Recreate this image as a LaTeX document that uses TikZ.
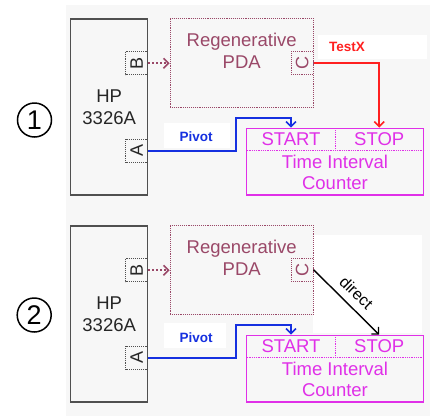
\documentclass[tikz,border=0pt]{standalone}
\usepackage{fontspec}
\setmainfont{Liberation Sans}
\usetikzlibrary{arrows.meta,shapes.geometric}
\definecolor{bggray}{HTML}{F7F7F7}
\definecolor{mauve}{HTML}{9A4868}
\definecolor{mag}{HTML}{E030E8}
\definecolor{pblue}{HTML}{1530E0}
\definecolor{tred}{HTML}{FF2020}
\definecolor{boxgray}{HTML}{505050}
\tikzset{
  bigtxt/.style={font=\fontsize{18.5}{21.5}\selectfont},
  hpbox/.style={draw=boxgray, line width=1.4pt, minimum width=77pt, minimum height=176pt, inner sep=0pt, bigtxt, align=center, text=black!85},
  portbox/.style={draw=boxgray, densely dotted, line width=0.9pt, minimum width=23pt, minimum height=22pt, inner sep=0pt, rotate=90, font=\fontsize{18}{18}\selectfont, text=black!85},
  cportbox/.style={portbox, draw=mauve, text=mauve},
  pdabox/.style={draw=mauve, densely dotted, line width=0.9pt, minimum width=143.3pt, minimum height=89pt, inner sep=0pt},
  pdatxt/.style={bigtxt, text=mauve, align=center},
  ticbox/.style={draw=mag, line width=1.3pt, minimum width=176.6pt, minimum height=66.7pt, inner sep=0pt},
  tictxt/.style={bigtxt, text=mag, inner sep=0pt},
  ticdiv/.style={draw=mag, densely dotted, line width=0.8pt},
  whitebox/.style={fill=white, draw=none, inner sep=0pt},
  lbl/.style={font=\bfseries\fontsize{13.5}{13.5}\selectfont, inner sep=0pt},
  barb/.style={-{Straight Barb[length=5pt,width=10pt,line width=1.6pt]}},
  bline/.style={mauve, dotted, line width=2pt, barb},
  redline/.style={tred, line width=2.2pt, barb},
  blueline/.style={pblue, line width=2.2pt, barb},
  blackline/.style={black, line width=1.4pt, -{Straight Barb[length=5pt,width=10pt,line width=1.4pt]}},
  numcirc/.style={circle, draw=black, line width=1.5pt, minimum size=34pt, inner sep=0pt, font=\fontsize{27}{27}\selectfont}
}
\begin{document}
\begin{tikzpicture}[x=1pt,y=-1pt]
\useasboundingbox (0,0) rectangle (438,416);
\fill[bggray] (66,5) rectangle (430,416);

% ---------------- panel 1 ----------------
\begin{scope}[name prefix=p1-]
  \node[whitebox, minimum width=109pt, minimum height=24pt] (tbg) at (372.5,47) {};
  \node[whitebox, minimum width=66pt, minimum height=25.3pt] (pbg) at (197,135.3) {};
  \node[numcirc] (num) at (34.5,120) {1};
  \node[hpbox] (hp) at (109.2,107) {HP\\3326A};
  \node[portbox] (B) at (136.7,63.3) {B};
  \node[portbox] (A) at (136.7,150.8) {A};
  \node[pdabox] (pda) at (241.7,62.8) {};
  \node[pdatxt] (pdat) at (241.7,51) {Regenerative\\PDA};
  \node[cportbox] (C) at (302.2,62.8) {C};
  \node[ticbox] (tic) at (335,161.7) {};
  \coordinate (hl) at (246.7,150.7);
  \coordinate (hr) at (423.3,150.7);
  \coordinate (vt) at (335,128.3);
  \coordinate (vb) at (335,150.7);
  \draw[ticdiv] (hl) -- (hr);
  \draw[ticdiv] (vt) -- (vb);
  \node[tictxt] (start) at (291,139.5) {START};
  \node[tictxt] (stop) at (379.2,139.5) {STOP};
  \node[tictxt] (tit) at (335,162) {Time Interval};
  \node[tictxt] (cnt) at (335,183.5) {Counter};
  \draw[bline] (B.south) -- (pda.west |- B.south);
  \draw[redline] (C.south) -| (stop |- tic.north);
  \coordinate (pb) at (236,117.7);
  \draw[blueline] (A.south) -| (pb) -| (start |- tic.north);
  \node[lbl, text=tred] (testx) at (347,47) {TestX};
  \node[lbl, text=pblue] (pivot) at (196,137) {Pivot};
\end{scope}

% ---------------- panel 2 ----------------
\begin{scope}[name prefix=p2-, yshift=-207pt]
  \node[whitebox, minimum width=109pt, minimum height=98pt] (dbg) at (367.5,77) {};
  \node[whitebox, minimum width=62pt, minimum height=25pt] (pbg) at (195,128.5) {};
  \node[hpbox] (hp) at (109.2,107) {HP\\3326A};
  \node[portbox] (B) at (136.7,63.3) {B};
  \node[portbox] (A) at (136.7,150.8) {A};
  \node[pdabox] (pda) at (241.7,62.8) {};
  \node[pdatxt] (pdat) at (241.7,51) {Regenerative\\PDA};
  \node[cportbox] (C) at (302.2,62.8) {C};
  \node[ticbox] (tic) at (335,161.7) {};
  \coordinate (hl) at (246.7,150.7);
  \coordinate (hr) at (423.3,150.7);
  \coordinate (vt) at (335,128.3);
  \coordinate (vb) at (335,150.7);
  \draw[ticdiv] (hl) -- (hr);
  \draw[ticdiv] (vt) -- (vb);
  \node[tictxt] (start) at (291,139.5) {START};
  \node[tictxt] (stop) at (379.2,139.5) {STOP};
  \node[tictxt] (tit) at (335,162) {Time Interval};
  \node[tictxt] (cnt) at (335,183.5) {Counter};
  \draw[bline] (B.south) -- (pda.west |- B.south);
  \draw[blackline] (C.south) -- (stop |- tic.north);
  \coordinate (pb) at (236,117.7);
  \draw[blueline] (A.south) -| (pb) -| (start |- tic.north);
  \node[font=\fontsize{16}{16}\selectfont, rotate=-44, inner sep=0pt] (direct) at (356.5,85.5) {direct};
  \node[lbl, text=pblue] (pivot) at (196,130.7) {Pivot};
\end{scope}
\node[numcirc] (num2) at (34.2,315) {2};
\end{tikzpicture}
\end{document}
